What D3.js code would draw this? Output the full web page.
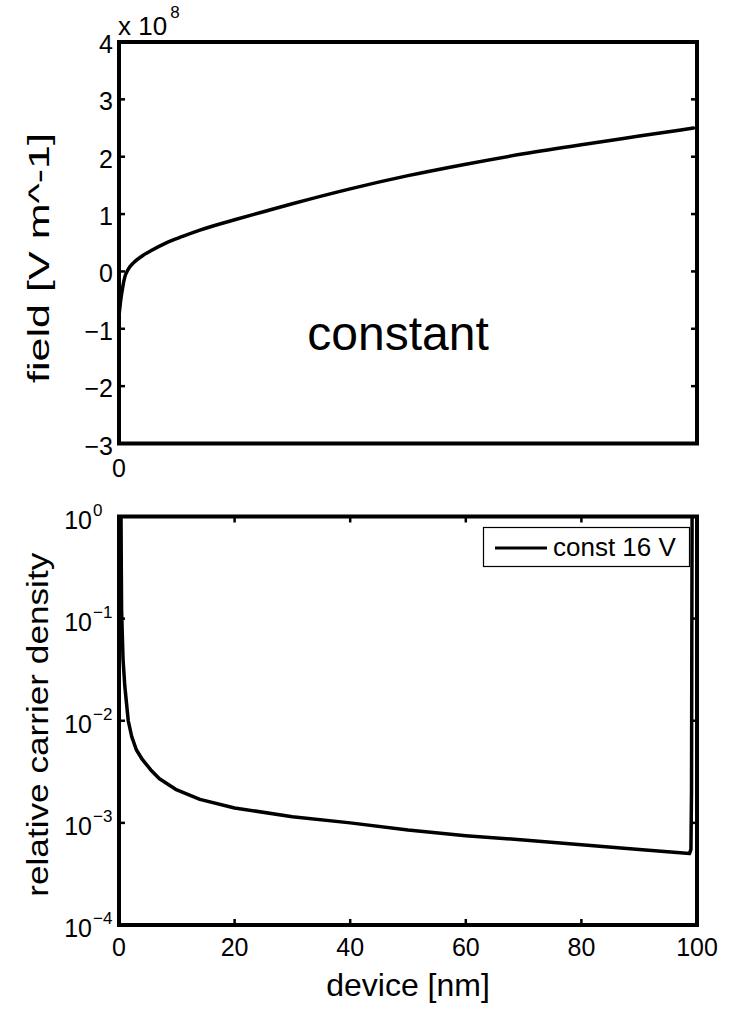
<!DOCTYPE html>
<html>
<head>
<meta charset="utf-8">
<script src="https://cdn.jsdelivr.net/npm/d3@7"></script>
<style>
  html, body { margin: 0; padding: 0; background: #fff; }
  svg { display: block; font-family: "Liberation Sans", Arial, Helvetica, sans-serif; }
</style>
</head>
<body>
<svg id="chart" width="738" height="1011"></svg>
<script>
// ---- data ----
const fieldX = [0, 0.3, 0.6, 1.0, 1.5, 2.5, 4, 5.5, 8, 11, 14, 20, 25, 30, 40, 50, 60, 70, 80, 90, 99.4];
const fieldY = [-0.78, -0.5, -0.3, -0.1, 0.02, 0.15, 0.27, 0.36, 0.49, 0.61, 0.72, 0.9, 1.04, 1.18, 1.44, 1.67, 1.87, 2.05, 2.21, 2.36, 2.5]; // x 1e8 V/m
const densX = [0.35, 0.4, 0.45, 0.7, 1.0, 1.6, 2.2, 3, 4, 5.5, 7, 10, 14, 20, 30, 40, 50, 60, 70, 80, 90, 98.7, 98.95, 99.05, 99.1, 99.15];
const densY = [1.0, 0.3, 0.12, 0.04, 0.022, 0.01, 0.007, 0.0052, 0.0042, 0.0033, 0.0027, 0.0021, 0.0017, 0.0014, 0.00115, 0.001, 0.00085, 0.00075, 0.00068, 0.00061, 0.00055, 0.0005, 0.00055, 0.002, 0.05, 1.0];
const topYTicks = [-3, -2, -1, 0, 1, 2, 3, 4];
const botXTicks = [0, 20, 40, 60, 80, 100];
const botYTicks = [1e-4, 1e-3, 1e-2, 1e-1, 1];
const legendLabel = "const 16 V";
const annotation = "constant";

const svg = d3.select("#chart");
const L = 119, R = 697;
const x = d3.scaleLinear().domain([0, 100]).range([L, R]);

const yTop = d3.scaleLinear().domain([-3, 4]).range([443.5, 42]);
const yBot = d3.scaleLog().domain([1e-4, 1]).range([925, 516.5]);

const FRAME_W = 4, TICK = 6, TF = 25;
const minus = s => String(s).replace("-", "\u2212");

// clip paths
const defs = svg.append("defs");
defs.append("clipPath").attr("id", "clipTop").append("rect")
  .attr("x", L).attr("y", yTop(4)).attr("width", R - L).attr("height", yTop(-3) - yTop(4));
defs.append("clipPath").attr("id", "clipBot").append("rect")
  .attr("x", L).attr("y", yBot(1)).attr("width", R - L).attr("height", yBot(1e-4) - yBot(1));

// ---------- TOP PANEL ----------
const gT = svg.append("g");
const lineTop = d3.line().x(d => x(d[0])).y(d => yTop(d[1])).curve(d3.curveMonotoneX);
gT.append("path")
  .datum(fieldX.map((v, i) => [v, fieldY[i]]))
  .attr("clip-path", "url(#clipTop)")
  .attr("d", lineTop)
  .attr("fill", "none").attr("stroke", "#000").attr("stroke-width", 3.5)
  .attr("stroke-linejoin", "round").attr("stroke-linecap", "round");

topYTicks.forEach(t => {
  const yy = yTop(t);
  if (t > -3 && t < 4) {
    gT.append("line").attr("x1", L).attr("x2", L + TICK).attr("y1", yy).attr("y2", yy).attr("stroke", "#000").attr("stroke-width", 2.5);
    gT.append("line").attr("x1", R).attr("x2", R - TICK).attr("y1", yy).attr("y2", yy).attr("stroke", "#000").attr("stroke-width", 2.5);
  }
  gT.append("text").attr("x", L - 6).attr("y", yy + 2).attr("dy", "0.36em")
    .attr("text-anchor", "end").attr("font-size", TF).text(minus(t));
});
gT.append("text").attr("x", x(0)).attr("y", yTop(-3) + 15).attr("dy", "0.72em")
  .attr("text-anchor", "middle").attr("font-size", TF).text("0");
gT.append("rect").attr("x", L).attr("y", yTop(4)).attr("width", R - L).attr("height", yTop(-3) - yTop(4))
  .attr("fill", "none").attr("stroke", "#000").attr("stroke-width", FRAME_W);
const ex = gT.append("text").attr("x", 118).attr("y", 35).attr("font-size", 26);
ex.append("tspan").text("x 10");
ex.append("tspan").attr("font-size", 17).attr("dy", -17).attr("dx", 3).text("8");
gT.append("text").attr("transform", `translate(49,258) rotate(-90)`)
  .attr("text-anchor", "middle").attr("font-size", 30)
  .attr("textLength", 250).attr("lengthAdjust", "spacingAndGlyphs").text("field [V m^-1]");
gT.append("text").attr("x", 398).attr("y", 350).attr("text-anchor", "middle")
  .attr("font-size", 48).text(annotation);

// ---------- BOTTOM PANEL ----------
const gB = svg.append("g");
const lineBot = d3.line().x(d => x(d[0])).y(d => yBot(d[1]));
gB.append("path")
  .datum(densX.map((v, i) => [v, densY[i]]))
  .attr("clip-path", "url(#clipBot)")
  .attr("d", lineBot)
  .attr("fill", "none").attr("stroke", "#000").attr("stroke-width", 3.5)
  .attr("stroke-linejoin", "round");

botXTicks.forEach(t => {
  const xx = x(t);
  if (t > 0 && t < 100) {
    gB.append("line").attr("x1", xx).attr("x2", xx).attr("y1", yBot(1e-4)).attr("y2", yBot(1e-4) - TICK).attr("stroke", "#000").attr("stroke-width", 2.5);
    gB.append("line").attr("x1", xx).attr("x2", xx).attr("y1", yBot(1)).attr("y2", yBot(1) + TICK).attr("stroke", "#000").attr("stroke-width", 2.5);
  }
  gB.append("text").attr("x", xx).attr("y", yBot(1e-4) + 13).attr("dy", "0.72em")
    .attr("text-anchor", "middle").attr("font-size", TF).text(t);
});
botYTicks.forEach(t => {
  const yy = yBot(t);
  const e = Math.round(Math.log10(t));
  if (t > 1e-4 && t < 1) {
    gB.append("line").attr("x1", L).attr("x2", L + TICK).attr("y1", yy).attr("y2", yy).attr("stroke", "#000").attr("stroke-width", 2.5);
    gB.append("line").attr("x1", R).attr("x2", R - TICK).attr("y1", yy).attr("y2", yy).attr("stroke", "#000").attr("stroke-width", 2.5);
  }
  gB.append("text").attr("x", 92).attr("y", yy + 12).attr("text-anchor", "end").attr("font-size", TF).text("10");
  gB.append("text").attr("x", 93).attr("y", yy - 1).attr("text-anchor", "start").attr("font-size", 17)
    .text(minus(e));
});
gB.append("rect").attr("x", L).attr("y", yBot(1)).attr("width", R - L).attr("height", yBot(1e-4) - yBot(1))
  .attr("fill", "none").attr("stroke", "#000").attr("stroke-width", FRAME_W);
gB.append("text").attr("transform", `translate(48,${(yBot(1) + yBot(1e-4)) / 2 + 4}) rotate(-90)`)
  .attr("text-anchor", "middle").attr("font-size", 29)
  .attr("textLength", 344).attr("lengthAdjust", "spacingAndGlyphs").text("relative carrier density");
gB.append("text").attr("x", (L + R) / 2).attr("y", 996).attr("text-anchor", "middle")
  .attr("font-size", 32).text("device [nm]");
const lg = gB.append("g");
lg.append("rect").attr("x", 483.5).attr("y", 527.5).attr("width", 206).attr("height", 39)
  .attr("fill", "#fff").attr("stroke", "#000").attr("stroke-width", 1.2);
lg.append("line").attr("x1", 495).attr("x2", 547).attr("y1", 548).attr("y2", 548)
  .attr("stroke", "#000").attr("stroke-width", 3);
lg.append("text").attr("x", 553).attr("y", 556).attr("font-size", 26).text(legendLabel);
</script>
</body>
</html>
